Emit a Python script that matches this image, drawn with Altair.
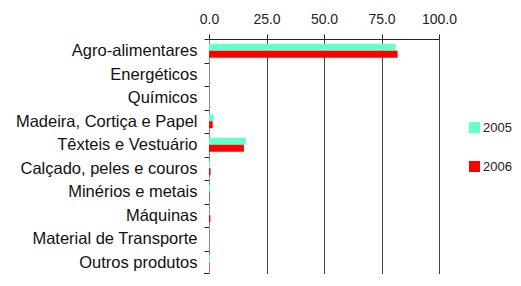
import altair as alt
import pandas as pd

categories = ["Agro-alimentares", "Energéticos", "Químicos", "Madeira, Cortiça e Papel",
              "Têxteis e Vestuário", "Calçado, peles e couros", "Minérios e metais",
              "Máquinas", "Material de Transporte", "Outros produtos"]
v2005 = [81.2, 0, 0, 2.0, 16.0, 0.5, 0.5, 0.1, 0, 0.5]
v2006 = [82.0, 0, 0, 1.6, 15.2, 0.7, 0.2, 0.6, 0, 0.1]
years = ["2005", "2006"]
colors = ["#66FFCC", "#FF0000"]
tick_values = [0, 25, 50, 75, 100]

rows = []
for c, a, b in zip(categories, v2005, v2006):
    rows.append({"category": c, "year": years[0], "value": a})
    rows.append({"category": c, "year": years[1], "value": b})
df = pd.DataFrame(rows)

H = 235
step = H / len(categories)

bars = alt.Chart(df).mark_bar().encode(
    x=alt.X("value:Q",
            scale=alt.Scale(domain=[0, 100], nice=False),
            axis=alt.Axis(orient="top", values=tick_values, format=".1f", grid=True,
                          gridColor="#444444", gridOpacity=1, gridWidth=1,
                          tickColor="#222222", domainColor="#222222", tickSize=5,
                          labelFontSize=14, labelPadding=8, labelColor="#222222",
                          labelFlush=False, labelOverlap=False, title=None)),
    y=alt.Y("category:N", sort=categories,
            scale=alt.Scale(paddingInner=0.41, paddingOuter=0.205),
            axis=alt.Axis(title=None, tickOffset=-step / 2, labelOffset=step / 2,
                          tickSize=5, tickColor="#222222", domainColor="#888888",
                          labelFontSize=16.5, labelPadding=7, labelColor="#111111",
                          labelLimit=300)),
    yOffset=alt.YOffset("year:N", sort=years),
    color=alt.Color("year:N", scale=alt.Scale(domain=years, range=colors),
                    legend=alt.Legend(orient="none", legendX=259, legendY=82, title=None,
                                      symbolType="square", symbolSize=121,
                                      symbolStrokeWidth=0, labelFontSize=13,
                                      labelColor="#222222", rowPadding=25, labelOffset=2)),
)

last_tick = alt.Chart(df).mark_rule(color="#222222").encode(
    x=alt.value(-5), x2=alt.value(0), y=alt.value(H)
)

chart = alt.layer(bars, last_tick).properties(
    width=230, height=H, autosize="none",
    padding={"left": 201, "top": 31, "right": 74, "bottom": 0}
).configure(font="Liberation Sans").configure_view(stroke=None)

chart.save("out.html", embed_options={"renderer": "svg", "actions": False})
